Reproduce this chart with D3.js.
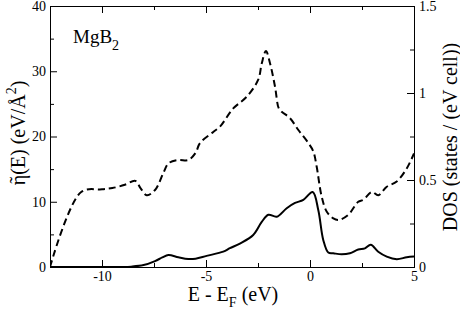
<!DOCTYPE html>
<html>
<head>
<meta charset="utf-8">
<script src="https://cdn.jsdelivr.net/npm/d3@7"></script>
<style>
body{margin:0;background:#fff;}
svg{display:block;}
svg text{font-family:"Liberation Serif","DejaVu Serif",serif;}
</style>
</head>
<body>
<div class="container"></div>
<script>
// eta~(E) curve (dashed, left axis)
const etaE   = [-12.5,-11.0,-10.0,-9.5,-8.9,-8.4,-8.15,-7.85,-7.45,-7.05,-6.8,-6.33,-5.85,-5.5,-5.29,-4.65,-4.33,-3.69,-3.04,-2.49,-2.32,-2.12,-1.92,-1.68,-1.5,-1.36,-0.96,-0.56,-0.08,0.16,0.32,0.56,0.8,1.1,1.36,1.84,2.32,2.56,2.97,3.28,3.69,4.17,4.65,5.0];
const etaVal = [0,11.5,11.9,12.1,12.6,13.2,12.1,11.0,11.8,14.4,15.9,16.4,16.4,17.5,19.0,20.7,21.5,24.3,26.1,28.7,31.2,33.1,31.2,27.6,24.3,23.8,22.8,21.0,19.0,17.7,15.4,10.8,8.5,7.5,7.2,8.0,10.0,10.3,11.5,11.0,12.3,13.1,15.1,17.4];

// DOS curve (solid, right axis)
const dosE   = [-12.5,-10.0,-9.0,-8.6,-8.0,-7.45,-7.1,-6.81,-6.33,-5.85,-5.5,-4.97,-4.17,-3.85,-3.37,-2.73,-2.32,-2.0,-1.6,-1.12,-0.72,-0.32,0.13,0.4,0.64,0.88,1.12,1.52,1.92,2.32,2.64,2.92,3.28,3.69,4.17,4.65,5.0];
const dosVal = [0,0,0,0.002,0.011,0.034,0.055,0.069,0.056,0.046,0.048,0.064,0.088,0.108,0.135,0.184,0.259,0.300,0.289,0.338,0.368,0.386,0.431,0.326,0.154,0.083,0.079,0.073,0.079,0.101,0.107,0.128,0.088,0.060,0.045,0.056,0.060];

// tick values
const xTicks = [-10,-5,0,5];
const xMinor = [-12.5,-7.5,-2.5,2.5];
const yTicks = [0,10,20,30,40];
const yMinor = [5,15,25,35];
const y2Ticks = [0,0.5,1,1.5];
const y2Minor = [0.25,0.75,1.25];

const w = 460;   //width of svg
const h = 309;   //height of svg
const pLeft = 50, pRight = 414, pTop = 6, pBottom = 267;  //plot frame
const serif = "Liberation Serif, DejaVu Serif, serif";

const xScale = d3.scaleLinear().domain([-12.5,5]).range([pLeft,pRight]);
const yScale = d3.scaleLinear().domain([0,40]).range([pBottom,pTop]);
const y2Scale = d3.scaleLinear().domain([0,1.5]).range([pBottom,pTop]);

const svg = d3.select(".container")
              .append("svg")
              .attr("width",w)
              .attr("height",h);

const fmt = (d)=>String(d);   //plain hyphen for negatives

//draws one axis and strips its domain line
function drawAxis(axis,tx,ty,size,labels){
    const g = svg.append("g")
        .attr("transform","translate("+tx+","+ty+")")
        .call(axis.tickSizeInner(size).tickSizeOuter(0).tickPadding(labels ? 4 : 0)
                  .tickFormat(labels ? fmt : ""));
    g.attr("font-family",serif).attr("font-size",14);
    g.select(".domain").remove();
    g.selectAll("line").attr("stroke","#000");
    g.selectAll("text").attr("fill","#000");
    return g;
}

//major and minor ticks, all pointing inwards
drawAxis(d3.axisBottom(xScale).tickValues(xTicks),0,pBottom,-7,true);
drawAxis(d3.axisBottom(xScale).tickValues(xMinor),0,pBottom,-4,false);
drawAxis(d3.axisTop(xScale).tickValues(xTicks),0,pTop,-7,false);
drawAxis(d3.axisTop(xScale).tickValues(xMinor),0,pTop,-4,false);
drawAxis(d3.axisLeft(yScale).tickValues(yTicks),pLeft,0,-7,true);
drawAxis(d3.axisLeft(yScale).tickValues(yMinor),pLeft,0,-4,false);
const rAxis = drawAxis(d3.axisRight(y2Scale).tickValues(y2Ticks),pRight,0,-7,true);
rAxis.selectAll("text").attr("x",5);
drawAxis(d3.axisRight(y2Scale).tickValues(y2Minor),pRight,0,-4,false);

//frame
svg.append("rect")
   .attr("x",pLeft+0.5).attr("y",pTop+0.5)
   .attr("width",pRight-pLeft).attr("height",pBottom-pTop)
   .attr("fill","none").attr("stroke","#000").attr("stroke-width",1);

//clip the curves to the frame
svg.append("clipPath").attr("id","plot")
   .append("rect").attr("x",pLeft).attr("y",pTop).attr("width",pRight-pLeft).attr("height",pBottom-pTop);

const etaLine = d3.line()
    .x((d)=>xScale(d[0]))
    .y((d)=>yScale(d[1]))
    .curve(d3.curveCatmullRom.alpha(0.5));

const dosLine = d3.line()
    .x((d)=>xScale(d[0]))
    .y((d)=>y2Scale(d[1]))
    .curve(d3.curveCatmullRom.alpha(0.5));

svg.append("path")
   .datum(d3.zip(etaE,etaVal))
   .attr("clip-path","url(#plot)")
   .attr("d",etaLine)
   .attr("fill","none")
   .attr("stroke","#000")
   .attr("stroke-width",2)
   .attr("stroke-dasharray","7,4");

svg.append("path")
   .datum(d3.zip(dosE,dosVal))
   .attr("clip-path","url(#plot)")
   .attr("d",dosLine)
   .attr("fill","none")
   .attr("stroke","#000")
   .attr("stroke-width",2);

//x-axis title
const xt = svg.append("text")
   .attr("x",233).attr("y",301)
   .attr("text-anchor","middle")
   .attr("font-family",serif)
   .attr("font-size",20);
xt.append("tspan").text("E - E");
xt.append("tspan").attr("font-size",14).attr("dy",6).text("F");
xt.append("tspan").attr("dy",-6).text(" (eV)");

//left y title, tilde placed over the eta
const yt = svg.append("g").attr("transform","translate(25,133) rotate(-90)");
const ytText = yt.append("text")
   .attr("text-anchor","middle")
   .attr("font-family",serif)
   .attr("font-size",20);
ytText.append("tspan").text("\u03B7(E) (eV/\u00C5");
ytText.append("tspan").attr("font-size",14).attr("dy",-9).text("2");
ytText.append("tspan").attr("dy",9).text(")");
const etaBox = ytText.node().getExtentOfChar(0);
yt.append("text")
   .attr("x",etaBox.x+etaBox.width/2).attr("y",-1)
   .attr("text-anchor","middle")
   .attr("font-family",serif)
   .attr("font-size",20)
   .text("\u02DC");

//right y title
svg.append("text")
   .attr("transform","translate(457,137) rotate(-90)")
   .attr("text-anchor","middle")
   .attr("font-family",serif)
   .attr("font-size",20)
   .text("DOS (states / (eV cell))");

//compound label
const lbl = svg.append("text")
   .attr("x",73).attr("y",43)
   .attr("font-family",serif)
   .attr("font-size",19);
lbl.append("tspan").text("MgB");
lbl.append("tspan").attr("font-size",14).attr("dy",7).text("2");
</script>
</body>
</html>
